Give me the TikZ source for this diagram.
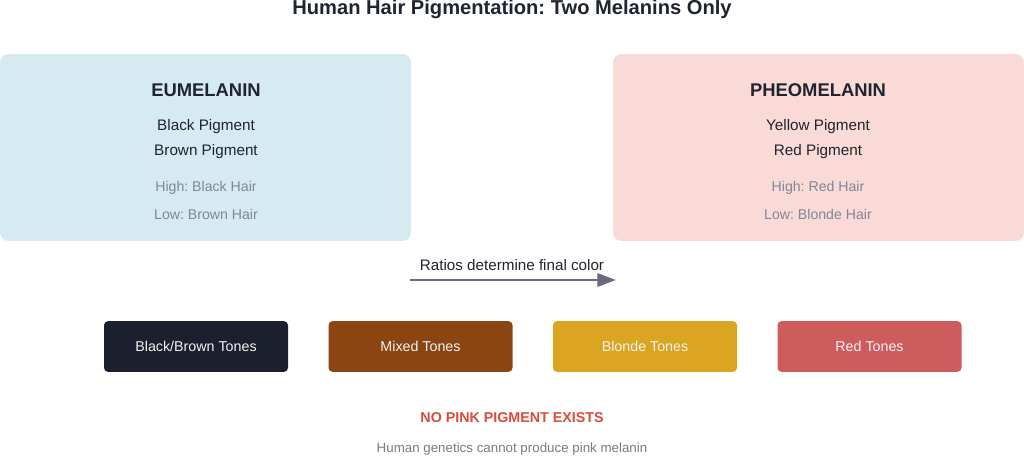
\documentclass[tikz,border=0pt]{standalone}
\usepackage{fontspec}
\setmainfont{Liberation Sans}
\usetikzlibrary{arrows.meta}
\definecolor{inkdark}{HTML}{1F2430}
\definecolor{softgrey}{HTML}{7E8796}
\definecolor{eublue}{HTML}{D6EAF1}
\definecolor{pheopink}{HTML}{FADAD7}
\definecolor{arrowgrey}{HTML}{6B6B80}
\definecolor{tonedark}{HTML}{1C1F2E}
\definecolor{tonemixed}{HTML}{8B4513}
\definecolor{toneblonde}{HTML}{DAA520}
\definecolor{tonered}{HTML}{CD5C5C}
\definecolor{warnred}{HTML}{DB4B3C}
\definecolor{notegrey}{HTML}{7A7A7A}
\frenchspacing

\tikzset{
  melbox/.style={rectangle, rounded corners=6pt, minimum width=308pt, minimum height=140pt, inner sep=0pt},
  tonebox/.style={rectangle, rounded corners=3pt, minimum width=138pt, minimum height=38pt, inner sep=0pt,
                  text=white!90!gray, font=\fontsize{10.7}{12}\selectfont},
  heading/.style={text=inkdark, font=\fontsize{13.8}{16}\selectfont\bfseries},
  pigment/.style={text=inkdark, font=\fontsize{11.45}{13}\selectfont},
  level/.style={text=softgrey, font=\fontsize{10.6}{12}\selectfont}
}

\begin{document}
\begin{tikzpicture}[x=0.75pt, y=-0.75pt]

  \useasboundingbox (0,0) rectangle (1024,457);

  % Draw title
  \node[text=inkdark, font=\fontsize{15.1}{18}\selectfont\bfseries] (title) at (512,9) {Human Hair Pigmentation: Two Melanins Only};

  % Draw the two melanin boxes
  \node[melbox, fill=eublue] (eu) at (205.5,147.5) {};
  \node[melbox, fill=pheopink] (pheo) at (818.5,147.5) {};

  % Eumelanin text
  \node[heading] (euhead) at (206,90) {EUMELANIN};
  \node[pigment] (eublack) at (206,127) {Black Pigment};
  \node[pigment] (eubrown) at (206,152) {Brown Pigment};
  \node[level] (euhigh) at (206,188) {High: Black Hair};
  \node[level] (eulow) at (206,214) {Low: Brown Hair};

  % Pheomelanin text
  \node[heading] (pheohead) at (818,90) {PHEOMELANIN};
  \node[pigment] (pheoyellow) at (818,127) {Yellow Pigment};
  \node[pigment] (pheored) at (818,152) {Red Pigment};
  \node[level] (pheohigh) at (818,188) {High: Red Hair};
  \node[level] (pheolow) at (818,214) {Low: Blonde Hair};

  % Draw the ratio arrow
  \node[text=inkdark, font=\fontsize{11.4}{13}\selectfont] (ratio) at (512,265) {Ratios determine final color};
  \coordinate (arrstart) at (410,280);
  \coordinate (arrend) at (616,280);
  \draw[arrowgrey, line width=1.6pt, -{Triangle[length=14pt, width=10pt]}] (arrstart) -- (arrend);

  % Draw the tone boxes
  \node[tonebox, fill=tonedark] (tblack) at (196,346.5) {Black/Brown Tones};
  \node[tonebox, fill=tonemixed] (tmixed) at (420.5,346.5) {Mixed Tones};
  \node[tonebox, fill=toneblonde] (tblonde) at (645,346.5) {Blonde Tones};
  \node[tonebox, fill=tonered] (tred) at (869.5,346.5) {Red Tones};

  % Draw the note
  \node[text=warnred, font=\fontsize{10.7}{12}\selectfont\bfseries] (nopink) at (512,418) {NO PINK PIGMENT EXISTS};
  \node[text=notegrey, font=\fontsize{10}{12}\selectfont] (genetics) at (512,449) {Human genetics cannot produce pink melanin};

\end{tikzpicture}
\end{document}
